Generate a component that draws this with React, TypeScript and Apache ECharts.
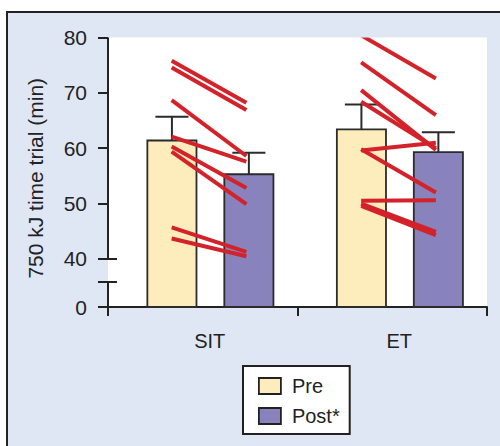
import React, { useEffect, useRef } from "react";
import * as echarts from "echarts";

// ---- data ----
const CATEGORIES = ["SIT", "ET"];
const PRE_MEAN = [61.4, 63.4];
const POST_MEAN = [55.3, 59.3];
const PRE_ERR = [4.3, 4.5];
const POST_ERR = [3.9, 3.6];
const SIT_PRE = [75.8, 74.6, 68.7, 62.1, 60.3, 59.4, 45.7, 43.7];
const SIT_POST = [68.2, 66.9, 58.6, 57.6, 52.8, 49.9, 41.3, 40.5];
const ET_PRE = [80.4, 75.5, 70.5, 68.4, 59.6, 59.8, 50.5, 50.0, 49.6];
const ET_POST = [72.6, 66.0, 59.7, 60.0, 61.0, 52.0, 50.6, 44.9, 44.3];
const Y_TICKS = [0, 40, 50, 60, 70, 80];
const LEGEND_NAMES = ["Pre", "Post*"];

// ---- axis break mapping (0 .. 40 compressed) ----
const BREAK_START = 40;
const BREAK_GAP = 8.67; // axis units occupied by 0..40
const BREAK_MARK = 4.51; // axis units of the break symbol
const toAxis = (v: number) => (v >= BREAK_START ? v - BREAK_START + BREAK_GAP : (v * BREAK_GAP) / BREAK_START);
const Y_MAX = toAxis(80);
const TICK_AXIS = Y_TICKS.map(toAxis);

// ---- styles ----
const FONT = "'Liberation Sans', Arial, Helvetica, sans-serif";
const INK = "#222222";
const PRE_COLOR = "#fdedbd";
const POST_COLOR = "#8882bd";
const RED = "#d3222a";
const BG = "#dfe7f5";

const BAR_W = 49 / 189;
const PRE_OFF = -30.75 / 189;
const POST_OFF = 46 / 189;
const CAP_W = 33 / 189;
const LINE_START = -31 / 189;
const LINE_END = 43.5 / 189;

function barSeries(name: string, means: number[], off: number, color: string) {
  return {
    type: "custom",
    name,
    itemStyle: { color, borderColor: INK, borderWidth: 1.8 },
    data: means.map((m, i) => [i, toAxis(m)]),
    renderItem: (params: any, api: any) => {
      const cat = api.value(0);
      const base = api.coord([cat, 0]);
      const top = api.coord([cat, api.value(1)]);
      const band = api.size([1, 0])[0];
      const cx = base[0] + off * band;
      const w = BAR_W * band;
      return {
        type: "rect",
        shape: { x: cx - w / 2, y: top[1], width: w, height: base[1] - top[1] },
        style: { fill: color, stroke: "#2b2b2b", lineWidth: 1.8 },
      };
    },
    z: 2,
  };
}

function errSeries(means: number[], errs: number[], off: number) {
  return {
    type: "custom",
    name: "err" + off,
    data: means.map((m, i) => [i, toAxis(m), toAxis(m + errs[i])]),
    renderItem: (params: any, api: any) => {
      const cat = api.value(0);
      const lo = api.coord([cat, api.value(1)]);
      const hi = api.coord([cat, api.value(2)]);
      const band = api.size([1, 0])[0];
      const cx = lo[0] + off * band;
      const cw = CAP_W * band;
      const st = { stroke: "#2b2b2b", lineWidth: 2 };
      return {
        type: "group",
        children: [
          { type: "line", shape: { x1: cx, y1: lo[1], x2: cx, y2: hi[1] }, style: st },
          { type: "line", shape: { x1: cx - cw / 2, y1: hi[1], x2: cx + cw / 2, y2: hi[1] }, style: st },
        ],
      };
    },
    z: 3,
  };
}

export default function App() {
  const ref = useRef<HTMLDivElement>(null);
  useEffect(() => {
    if (!ref.current) return;
    const chart = echarts.init(ref.current, undefined, { renderer: "svg" });

    const pairs: number[][] = [];
    SIT_PRE.forEach((p, i) => pairs.push([0, toAxis(p), toAxis(SIT_POST[i])]));
    ET_PRE.forEach((p, i) => pairs.push([1, toAxis(p), toAxis(ET_POST[i])]));

    chart.setOption({
      animation: false,
      backgroundColor: "#ffffff",
      textStyle: { fontFamily: FONT },
      graphic: [
        {
          type: "rect",
          z: -100,
          silent: true,
          shape: { x: 7, y: 12, width: 600, height: 600 },
          style: { fill: BG, stroke: INK, lineWidth: 2 },
        },
      ],
      grid: {
        left: 108,
        right: 13,
        top: 37.5,
        bottom: 139,
        show: true,
        backgroundColor: "#ffffff",
        borderWidth: 0,
      },
      legend: {
        orient: "vertical",
        left: 243,
        top: 366,
        backgroundColor: "#ffffff",
        borderColor: INK,
        borderWidth: 2,
        borderRadius: 0,
        padding: [10, 10, 8, 15],
        itemWidth: 22,
        itemHeight: 16,
        itemGap: 10,
        selectedMode: false,
        textStyle: { fontSize: 20, color: INK, fontFamily: FONT, padding: [0, 0, 0, 6] },
        data: [
          { name: LEGEND_NAMES[0], icon: "rect", itemStyle: { color: PRE_COLOR, borderColor: INK, borderWidth: 1.8 } },
          { name: LEGEND_NAMES[1], icon: "rect", itemStyle: { color: POST_COLOR, borderColor: INK, borderWidth: 1.8 } },
        ],
      },
      xAxis: {
        type: "category",
        data: CATEGORIES,
        boundaryGap: true,
        axisLine: { show: true, lineStyle: { color: INK, width: 2 } },
        axisTick: { show: true, length: 9, lineStyle: { color: INK, width: 2 } },
        axisLabel: { fontSize: 20, color: INK, margin: 24, fontFamily: FONT, padding: [0, 0, 0, 14] },
        splitLine: { show: false },
      },
      yAxis: {
        type: "value",
        min: 0,
        max: Y_MAX,
        name: "750 kJ time trial (min)",
        nameLocation: "middle",
        nameGap: 62,
        nameRotate: 90,
        nameTextStyle: { fontSize: 21, color: INK, fontFamily: FONT, padding: [0, 12, 0, 0] },
        axisLine: { show: false },
        splitLine: { show: false },
        axisTick: { show: true, length: 10, customValues: TICK_AXIS, lineStyle: { color: INK, width: 2 } },
        axisLabel: {
          fontSize: 21,
          color: INK,
          margin: 21,
          fontFamily: FONT,
          customValues: TICK_AXIS,
          formatter: (val: number) => {
            const i = TICK_AXIS.findIndex((t) => Math.abs(t - val) < 1e-6);
            return i >= 0 ? String(Y_TICKS[i]) : "";
          },
        },
      },
      series: [
        barSeries(LEGEND_NAMES[0], PRE_MEAN, PRE_OFF, PRE_COLOR),
        barSeries(LEGEND_NAMES[1], POST_MEAN, POST_OFF, POST_COLOR),
        errSeries(PRE_MEAN, PRE_ERR, PRE_OFF),
        errSeries(POST_MEAN, POST_ERR, POST_OFF),
        {
          type: "custom",
          name: "individual",
          clip: true,
          data: pairs,
          z: 4,
          renderItem: (params: any, api: any) => {
            const cat = api.value(0);
            const a = api.coord([cat, api.value(1)]);
            const b = api.coord([cat, api.value(2)]);
            const band = api.size([1, 0])[0];
            return {
              type: "line",
              shape: { x1: a[0] + LINE_START * band, y1: a[1], x2: b[0] + LINE_END * band, y2: b[1] },
              style: { stroke: RED, lineWidth: 4, lineCap: "butt" },
            };
          },
        },
        {
          type: "custom",
          name: "axisDecor",
          data: [[0, 0]],
          z: 5,
          renderItem: (params: any, api: any) => {
            const x = params.coordSys.x;
            const y0 = api.coord([0, 0])[1];
            const yB = api.coord([0, BREAK_MARK])[1];
            const y40 = api.coord([0, toAxis(BREAK_START)])[1];
            const yTop = api.coord([0, Y_MAX])[1];
            const st = { stroke: INK, lineWidth: 2 };
            return {
              type: "group",
              children: [
                { type: "line", shape: { x1: x, y1: yTop, x2: x, y2: y40 }, style: st },
                { type: "line", shape: { x1: x, y1: yB, x2: x, y2: y0 + 9 }, style: st },
                { type: "line", shape: { x1: x - 10, y1: y40, x2: x + 9, y2: y40 }, style: st },
                { type: "line", shape: { x1: x - 10, y1: yB, x2: x + 9, y2: yB }, style: st },
              ],
            };
          },
        },
      ],
    });
    return () => chart.dispose();
  }, []);
  return <div ref={ref} style={{ position: "absolute", left: 0, top: 0, width: 500, height: 446 }} />;
}
